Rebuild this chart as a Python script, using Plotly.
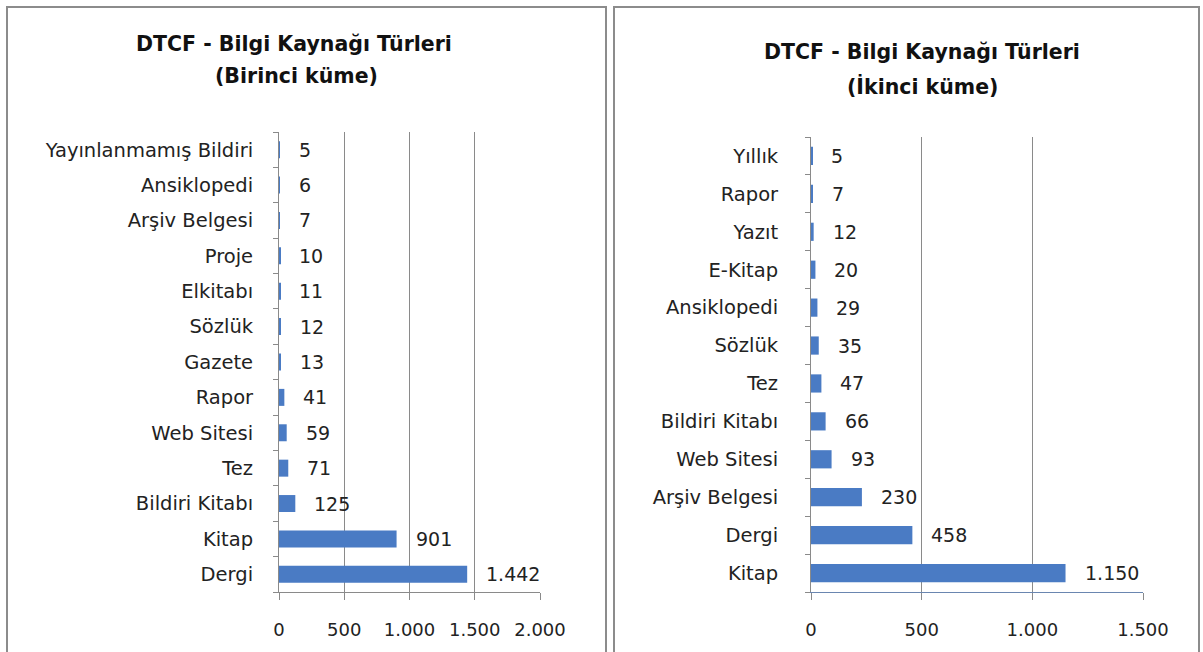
import plotly.graph_objects as go

W, H = 1203, 652

# ---- data ----
left_title = ["DTCF - Bilgi Kaynağı Türleri", "(Birinci küme)"]
left_categories = ["Dergi", "Kitap", "Bildiri Kitabı", "Tez", "Web Sitesi", "Rapor", "Gazete",
                   "Sözlük", "Elkitabı", "Proje", "Arşiv Belgesi", "Ansiklopedi", "Yayınlanmamış Bildiri"]
left_values = [1442, 901, 125, 71, 59, 41, 13, 12, 11, 10, 7, 6, 5]
left_ticks = [0, 500, 1000, 1500, 2000]

right_title = ["DTCF - Bilgi Kaynağı Türleri", "(İkinci küme)"]
right_categories = ["Kitap", "Dergi", "Arşiv Belgesi", "Web Sitesi", "Bildiri Kitabı", "Tez",
                    "Sözlük", "Ansiklopedi", "E-Kitap", "Yazıt", "Rapor", "Yıllık"]
right_values = [1150, 458, 230, 93, 66, 47, 35, 29, 20, 12, 7, 5]
right_ticks = [0, 500, 1000, 1500]

FONT = "DejaVu Sans"
BAR = "#4a7bc4"
GRID = "#8a8a8a"
TXT = "#222222"


def fmt(v):
    return f"{v:,}".replace(",", ".")


def px_x(p):
    return p / W


def px_y(p):
    return 1 - p / H


fig = go.Figure()
fig.add_trace(go.Bar(x=left_values, y=left_categories, orientation="h",
                     marker=dict(color=BAR, line=dict(width=0)), xaxis="x", yaxis="y",
                     hoverinfo="x+y"))
fig.add_trace(go.Bar(x=right_values, y=right_categories, orientation="h",
                     marker=dict(color=BAR, line=dict(width=0)), xaxis="x2", yaxis="y2",
                     hoverinfo="x+y"))

annotations = []
for c, v in zip(left_categories, left_values):
    annotations.append(dict(x=v, y=c, xref="x", yref="y", text=fmt(v), showarrow=False,
                            xanchor="left", xshift=17, font=dict(family=FONT, size=19, color=TXT)))
for c, v in zip(right_categories, right_values):
    annotations.append(dict(x=v, y=c, xref="x2", yref="y2", text=fmt(v), showarrow=False,
                            xanchor="left", xshift=17, font=dict(family=FONT, size=19, color=TXT)))

# titles
for (txt, cx, cy) in [(left_title[0], 294, 44), (left_title[1], 296, 76),
                      (right_title[0], 922, 52), (right_title[1], 922, 86)]:
    annotations.append(dict(x=px_x(cx), y=px_y(cy), xref="paper", yref="paper", text=f"<b>{txt}</b>",
                            showarrow=False, xanchor="center", yanchor="middle",
                            font=dict(family=FONT, size=20.5, color="#111111")))

shapes = [
    dict(type="rect", xref="paper", yref="paper", x0=px_x(7), x1=px_x(606), y0=px_y(660), y1=px_y(7),
         line=dict(color="#8c8c8c", width=2), layer="below"),
    dict(type="rect", xref="paper", yref="paper", x0=px_x(614), x1=px_x(1199), y0=px_y(660), y1=px_y(7),
         line=dict(color="#8c8c8c", width=2), layer="below"),
]

xcommon = dict(showgrid=True, gridcolor=GRID, gridwidth=1, zeroline=False, showline=True,
               linecolor=GRID, linewidth=1, ticks="outside", ticklen=7, tickcolor=GRID,
               ticklabelstandoff=14, tickfont=dict(family=FONT, size=18, color=TXT),
               tickformat=",d", fixedrange=True, automargin=False)
ycommon = dict(showgrid=False, zeroline=False, showline=True, linecolor=GRID, linewidth=1,
               ticks="outside", ticklen=5, tickcolor=GRID, tickson="boundaries",
               tickfont=dict(family=FONT, size=19.5, color=TXT),
               type="category", fixedrange=True, automargin=False)

fig.update_layout(
    width=W, height=H, margin=dict(l=0, r=0, t=0, b=0, autoexpand=False),
    paper_bgcolor="white", plot_bgcolor="white",
    separators=",.",
    showlegend=False, bargap=0.52,
    xaxis=dict(xcommon, domain=[px_x(279), px_x(540)], range=[0, 2000], tickvals=left_ticks,
               anchor="y"),
    yaxis=dict(ycommon, domain=[px_y(592), px_y(132)], categoryorder="array",
               categoryarray=left_categories, anchor="x", ticklabelstandoff=21),
    xaxis2=dict(xcommon, domain=[px_x(811), px_x(1143)], range=[0, 1500], tickvals=right_ticks,
                anchor="y2", linecolor="#6a86b0"),
    yaxis2=dict(ycommon, domain=[px_y(592), px_y(137)], categoryorder="array",
                categoryarray=right_categories, anchor="x2", ticklabelstandoff=28),
    annotations=annotations, shapes=shapes,
    font=dict(family=FONT, color=TXT),
)

fig.write_html("out.html", config={"displayModeBar": False},
               post_script="document.body.style.margin='0';document.body.style.overflow='hidden';")
